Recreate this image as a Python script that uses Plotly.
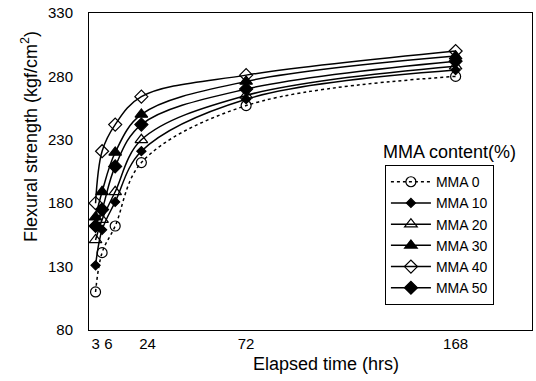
import plotly.graph_objects as go

hours = [3, 6, 12, 24, 72, 168]
series_names = ["MMA 0", "MMA 10", "MMA 20", "MMA 30", "MMA 40", "MMA 50"]
mma0 = [110, 141, 162, 212, 257, 280]
mma10 = [131, 159, 181, 221, 262, 285]
mma20 = [151, 167, 189, 230, 265, 288]
mma30 = [169, 189, 220, 250, 276, 296]
mma40 = [180, 221, 242, 264, 281, 300]
mma50 = [162, 175, 209, 242, 270, 292]
x_tick_vals = [3, 6, 24, 72, 168]
x_tick_text = ["3", "\u00a0\u00a0\u00a06", "\u00a0\u00a0\u00a024", "72", "168"]
y_tick_vals = [80, 130, 180, 230, 280, 330]

values = [mma0, mma10, mma20, mma30, mma40, mma50]
symbols = ["circle-open", "diamond", "triangle-up-open", "triangle-up", "diamond-open", "diamond"]
sizes = [10, 7, 11, 11, 10, 10]
dashes = ["dot", "solid", "solid", "solid", "solid", "solid"]

fig = go.Figure()
for name, ys, sym, sz, dash in zip(series_names, values, symbols, sizes, dashes):
    fig.add_trace(go.Scatter(
        x=hours, y=ys, name=name, mode="lines+markers",
        line=dict(color="black", width=1.5, dash=dash, shape="spline", smoothing=1.0),
        marker=dict(symbol=sym, size=sz, color="black",
                    line=dict(color="black", width=1.2)),
    ))

font_family = "Liberation Sans, Arial, sans-serif"
fig.update_layout(
    width=536, height=381,
    margin=dict(l=89, r=4, t=13, b=51),
    paper_bgcolor="white", plot_bgcolor="white",
    font=dict(family=font_family, size=14, color="black"),
    showlegend=True,
    legend=dict(x=0.668, y=0.52, xanchor="left", yanchor="top",
                bordercolor="black", borderwidth=1, bgcolor="white",
                font=dict(size=14), tracegroupgap=0, itemwidth=40),
    annotations=[
        dict(text="MMA content(%)", x=0.813, y=0.5615, xref="paper", yref="paper",
             xanchor="center", yanchor="middle", showarrow=False, font=dict(size=18)),
        dict(text="Flexural strength (kgf/cm<sup>2</sup>)", x=-0.133, y=0.609,
             xref="paper", yref="paper", xanchor="center", yanchor="middle",
             textangle=-90, showarrow=False, font=dict(size=18)),
        dict(text="Elapsed time (hrs)", x=0.535, y=-0.107, xref="paper", yref="paper",
             xanchor="center", yanchor="middle", showarrow=False, font=dict(size=18)),
    ],
)
fig.update_xaxes(range=[0, 203], tickvals=x_tick_vals, ticktext=x_tick_text,
                 tickangle=0, automargin=False,
                 showgrid=False, zeroline=False, showline=True, linecolor="black",
                 linewidth=1, mirror=True, ticks="", tickfont=dict(size=15))
fig.update_yaxes(range=[80, 330], tickvals=y_tick_vals, automargin=False,
                 ticklabelstandoff=12,
                 showgrid=False, zeroline=False, showline=True, linecolor="black",
                 linewidth=1, mirror=True, ticks="", tickfont=dict(size=15))

fig.write_html("out.html", config={"displayModeBar": False},
               post_script="document.body.style.margin='0';")
